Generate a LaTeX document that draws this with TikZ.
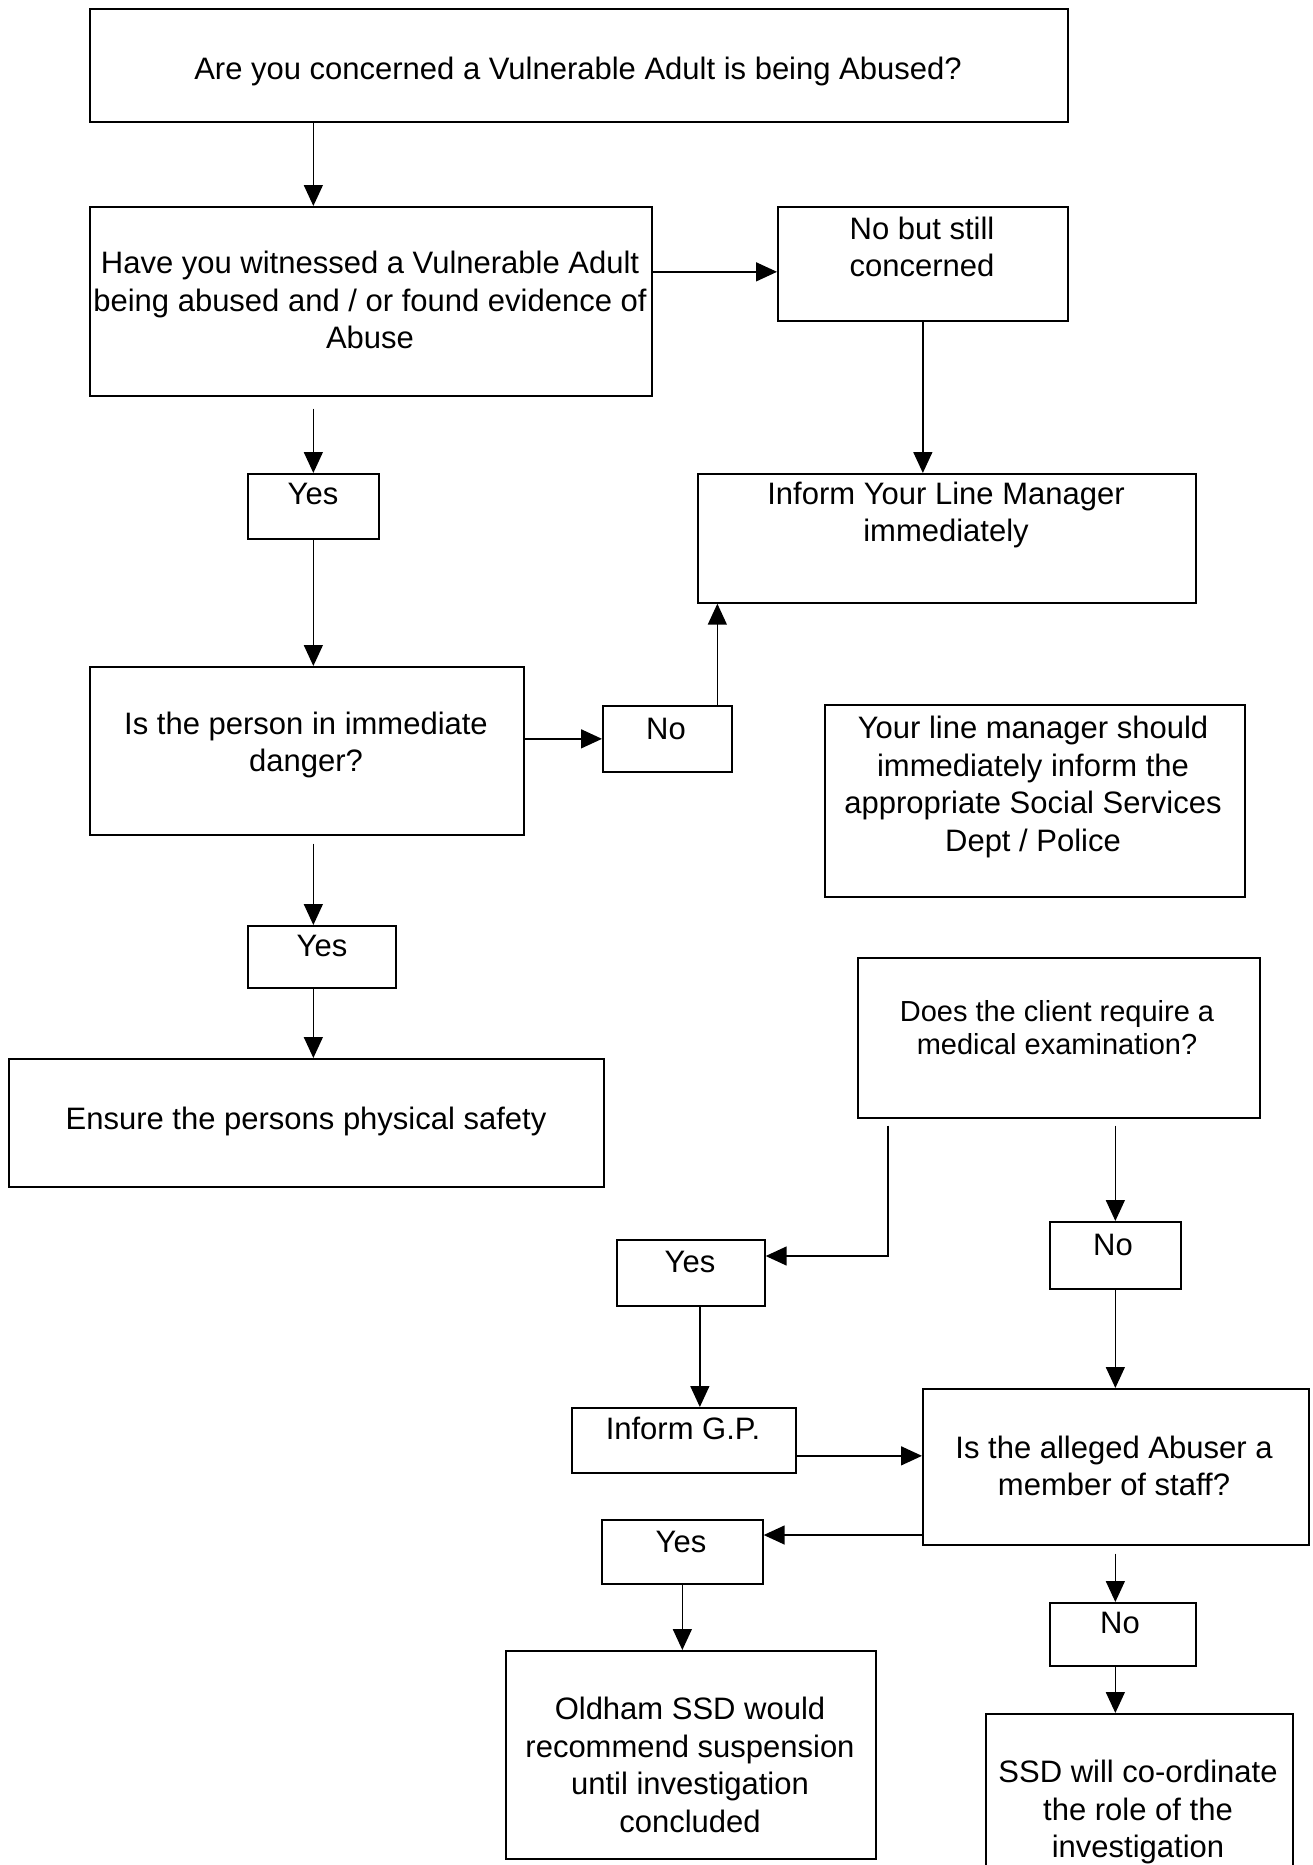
\documentclass[tikz,border=0pt]{standalone}
\usepackage{fontspec}
\setmainfont{Liberation Sans}
\usetikzlibrary{arrows.meta}
\tikzset{
  box/.style={draw, line width=1.7pt, inner sep=0pt, anchor=north west},
  txt/.style={font=\fontsize{31}{37.5}\selectfont, align=center, inner sep=0pt},
  smalltxt/.style={font=\fontsize{29}{33}\selectfont, align=center, inner sep=0pt},
  arr/.style={line width=1.5pt, -{Triangle[length=21pt,width=19pt]}}
}
\begin{document}
\begin{tikzpicture}[x=1pt,y=-1pt]
\useasboundingbox (0,0) rectangle (1313,1865);
\clip (0,0) rectangle (1313,1865);
\fill[white] (0,0) rectangle (1313,1865);

% boxes
\node[box, minimum width=978pt, minimum height=113pt] (b1) at (89,8) {};
\node[box, minimum width=562pt, minimum height=189pt] (b2) at (89,206) {};
\node[box, minimum width=290pt, minimum height=114pt] (nobut) at (777,206) {};
\node[box, minimum width=131pt, minimum height=65pt] (yes1) at (247,473) {};
\node[box, minimum width=498pt, minimum height=129pt] (inform) at (697,473) {};
\node[box, minimum width=434pt, minimum height=168pt] (q3) at (89,666) {};
\node[box, minimum width=129pt, minimum height=66pt] (no1) at (602,705) {};
\node[box, minimum width=420pt, minimum height=192pt] (lm) at (824,704) {};
\node[box, minimum width=148pt, minimum height=62pt] (yes2) at (247,925) {};
\node[box, minimum width=595pt, minimum height=128pt] (ensure) at (8,1058) {};
\node[box, minimum width=402pt, minimum height=160pt] (med) at (857,957) {};
\node[box, minimum width=148pt, minimum height=66pt] (yes3) at (616,1239) {};
\node[box, minimum width=131pt, minimum height=67pt] (no2) at (1049,1221) {};
\node[box, minimum width=224pt, minimum height=65pt] (gp) at (571,1407) {};
\node[box, minimum width=386pt, minimum height=156pt] (abuser) at (922,1388) {};
\node[box, minimum width=161pt, minimum height=64pt] (yes4) at (601,1519) {};
\node[box, minimum width=146pt, minimum height=63pt] (no3) at (1049,1602) {};
\node[box, minimum width=370pt, minimum height=208pt] (oldham) at (505,1650) {};
\node[box, minimum width=307pt, minimum height=190pt] (ssd) at (985,1713) {};

% texts
\node[txt] (t1) at (578,71) {Are you concerned a Vulnerable Adult is being Abused?};
\node[txt] (t2) at (370,300) {Have you witnessed a Vulnerable Adult\\being abused and / or found evidence of\\Abuse};
\node[txt] (t3) at (922,247) {No but still\\concerned};
\node[txt] (t4) at (313,494) {Yes};
\node[txt] (t5) at (946,515) {Inform Your Line Manager\\immediately};
\node[txt] (t6) at (306,745) {Is the person in immediate\\danger?};
\node[txt] (t7) at (666,729) {No};
\node[txt] (t8) at (1033,787) {Your line manager should\\immediately inform the\\appropriate Social Services\\Dept / Police};
\node[txt] (t9) at (322,946) {Yes};
\node[txt] (t10) at (306,1121) {Ensure the persons physical safety};
\node[smalltxt] (t11) at (1057,1028) {Does the client require a\\medical examination?};
\node[txt] (t12) at (690,1262) {Yes};
\node[txt] (t13) at (1113,1245) {No};
\node[txt] (t14) at (683,1428) {Inform G.P.};
\node[txt] (t15) at (1114,1466) {Is the alleged Abuser a\\member of staff?};
\node[txt] (t16) at (681,1542) {Yes};
\node[txt] (t17) at (1120,1623) {No};
\node[txt] (t18) at (690,1765) {Oldham SSD would\\recommend suspension\\until investigation\\concluded};
\node[txt] (t19) at (1138,1812) {SSD will co-ordinate\\the role of the\\investigation};

% helper coordinates
\coordinate (p1) at ([yshift=-8pt]nobut.west);
\coordinate (c2) at ([xshift=50pt]no1.north);
\coordinate (c3) at ([xshift=31pt]med.south west);
\coordinate (c4) at ([yshift=-17pt]yes3.north east);
\coordinate (c5) at ([xshift=9pt]yes3.south);
\coordinate (c6) at ([yshift=11pt]abuser.west);
\coordinate (c7) at ([yshift=-16pt]yes4.north east);

% connectors
\draw[arr] (b1.south -| yes1.north) -- (b2.north -| yes1.north);
\draw[arr] (b2.east |- p1) -- (p1);
\draw[arr] (yes1.north |- b2.south) ++(0,12) -- (yes1.north);
\draw[arr] (nobut.south) -- (nobut.south |- inform.north);
\draw[arr] (yes1.south) -- (yes1.south |- q3.north);
\draw[arr] (q3.east |- no1.west) -- (no1.west);
\draw[arr] (c2) -- (c2 |- inform.south);
\draw[arr] (yes1.south |- q3.south) ++(0,8) -- (yes1.south |- yes2.north);
\draw[arr] (yes1.south |- yes2.south) -- (yes1.south |- ensure.north);
\draw[arr] (c3) ++(0,7) -- (c3 |- c4) -- (c4);
\draw[arr] (no2.north |- med.south) ++(0,7) -- (no2.north);
\draw[arr] (c5) -- (c5 |- gp.north);
\draw[arr] (no2.south) -- (no2.south |- abuser.north);
\draw[arr] (gp.east |- c6) -- (c6);
\draw[arr] (abuser.west |- c7) -- (c7);
\draw[arr] (no2.south |- abuser.south) ++(0,8) -- (no2.south |- no3.north);
\draw[arr] (yes4.south) -- (yes4.south |- oldham.north);
\draw[arr] (no2.south |- no3.south) -- (no2.south |- ssd.north);
\end{tikzpicture}
\end{document}
